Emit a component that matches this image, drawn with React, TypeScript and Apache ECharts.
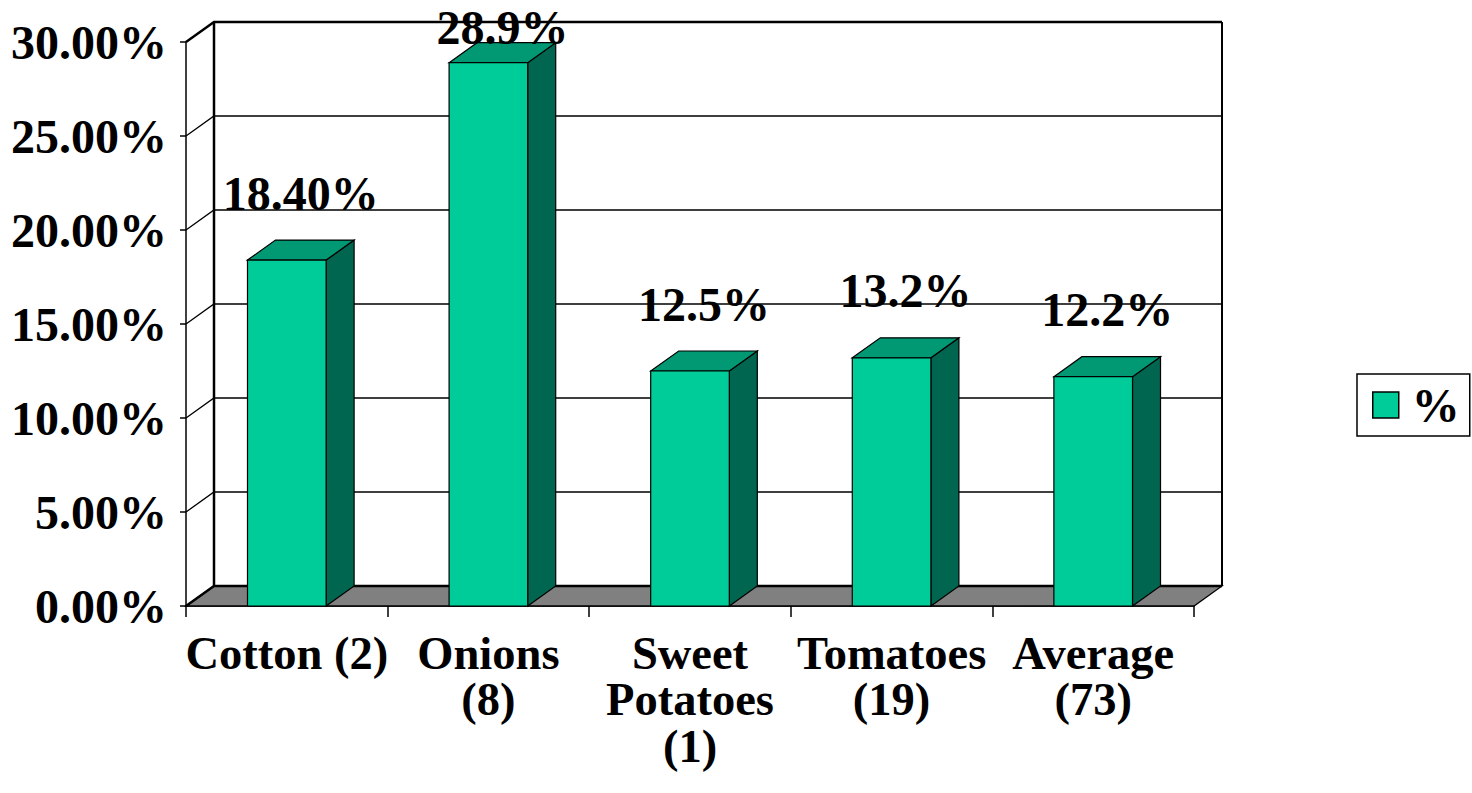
import React, { useEffect, useRef } from "react";
import * as echarts from "echarts";

const categories = ["Cotton (2)", "Onions\n(8)", "Sweet\nPotatoes\n(1)", "Tomatoes\n(19)", "Average\n(73)"];
const values = [0.184, 0.289, 0.125, 0.132, 0.122];
const barLabels = ["18.40%", "28.9%", "12.5%", "13.2%", "12.2%"];
const yTickValues = [0, 0.05, 0.1, 0.15, 0.2, 0.25, 0.3];
const seriesName = "%";

const FONT = "'Liberation Serif', 'Times New Roman', serif";
const FS = 48;
const XFS = 46.5;
const DX = 28;
const DY = -20;

export default function App() {
  const ref = useRef<HTMLDivElement>(null);
  useEffect(() => {
    if (!ref.current) return;
    const chart = echarts.init(ref.current, undefined, { renderer: "svg" });
    const yMax = yTickValues[yTickValues.length - 1];

    const wallRender = (params: any, api: any) => {
      const cs = params.coordSys;
      const x0 = cs.x;
      const w = cs.width;
      const v = api.value(1);
      const y = api.coord([0, v])[1];
      const y0 = api.coord([0, 0])[1];
      const yTop = api.coord([0, yMax])[1];
      const children: any[] = [];
      if (params.dataIndex === 0) {
        children.push({
          type: "polygon",
          shape: { points: [[x0, y], [x0 + w, y], [x0 + w + DX, y + DY], [x0 + DX, y + DY]] },
          style: { fill: "#808080", stroke: "#000", lineWidth: 1.3 },
        });
        children.push({
          type: "line",
          shape: { x1: x0 + DX, y1: yTop + DY, x2: x0 + DX, y2: y0 + DY },
          style: { stroke: "#000", lineWidth: 2.5 },
        });
        children.push({
          type: "line",
          shape: { x1: x0 + w + DX, y1: yTop + DY, x2: x0 + w + DX, y2: y0 + DY },
          style: { stroke: "#000", lineWidth: 2 },
        });
      }
      const isEdge = v === 0 || v === yMax;
      children.push({
        type: "polyline",
        shape: { points: [[x0, y], [x0 + DX, y + DY], [x0 + w + DX, y + DY]] },
        style: { stroke: "#000", lineWidth: isEdge ? 2.5 : 1.3, fill: "none" },
      });
      return { type: "group", children };
    };

    const barRender = (params: any, api: any) => {
      const idx = api.value(0);
      const v = api.value(1);
      const [cx, top] = api.coord([idx, v]);
      const base = api.coord([idx, 0])[1];
      const band = api.size([1, 0])[0];
      const bw = band * 0.39;
      const xl = cx - bw / 2;
      const xr = cx + bw / 2;
      const labelY = Math.max(top + DY - 47, 27);
      return {
        type: "group",
        children: [
          {
            type: "polygon",
            shape: { points: [[xr, top], [xr + DX, top + DY], [xr + DX, base + DY], [xr, base]] },
            style: { fill: "#006650", stroke: "#000", lineWidth: 1.2 },
          },
          {
            type: "polygon",
            shape: { points: [[xl, top], [xl + DX, top + DY], [xr + DX, top + DY], [xr, top]] },
            style: { fill: "#009973", stroke: "#000", lineWidth: 1.2 },
          },
          {
            type: "rect",
            shape: { x: xl, y: top, width: bw, height: base - top },
            style: { fill: "#00CC99", stroke: "#000", lineWidth: 1.2 },
          },
          {
            type: "text",
            style: {
              text: barLabels[params.dataIndex],
              x: cx + DX / 2,
              y: labelY,
              align: "center",
              verticalAlign: "middle",
              fill: "#000",
              fontSize: FS,
              fontWeight: "bold",
              fontFamily: FONT,
            },
          },
        ],
      };
    };

    chart.setOption({
      animation: false,
      backgroundColor: "#fff",
      grid: { left: 186, top: 42, width: 1008, height: 564 },
      legend: {
        data: [{ name: seriesName, icon: "rect" }],
        left: 1357,
        top: 374,
        orient: "vertical",
        itemWidth: 26,
        itemHeight: 26,
        padding: [7, 10, 7, 15],
        borderColor: "#000",
        borderWidth: 1.5,
        itemStyle: { borderColor: "#000", borderWidth: 1.5 },
        textStyle: {
          fontSize: FS,
          fontWeight: "bold",
          fontFamily: FONT,
          color: "#000",
          padding: [0, 0, 0, 8],
        },
        selectedMode: false,
      },
      xAxis: {
        type: "category",
        data: categories,
        axisLine: { show: true, lineStyle: { color: "#000", width: 1.5 } },
        axisTick: { show: true, length: 11, interval: 0, lineStyle: { color: "#000", width: 1.5 } },
        axisLabel: {
          interval: 0,
          margin: 24,
          color: "#000",
          fontSize: XFS,
          fontWeight: "bold",
          fontFamily: FONT,
          lineHeight: XFS,
        },
        splitLine: { show: false },
      },
      yAxis: {
        type: "value",
        min: 0,
        max: yMax,
        interval: 0.05,
        axisLine: { show: true, lineStyle: { color: "#000", width: 1.5 } },
        axisTick: { show: true, length: 6, lineStyle: { color: "#000", width: 1.5 } },
        axisLabel: {
          margin: 19,
          color: "#000",
          fontSize: FS,
          fontWeight: "bold",
          fontFamily: FONT,
          formatter: (v: number) => (v * 100).toFixed(2) + "%",
        },
        splitLine: { show: false },
      },
      series: [
        {
          name: "walls",
          type: "custom",
          silent: true,
          z: 1,
          renderItem: wallRender,
          data: yTickValues.map((v) => [0, v]),
        },
        {
          name: seriesName,
          type: "custom",
          z: 3,
          color: "#00CC99",
          itemStyle: { color: "#00CC99" },
          renderItem: barRender,
          data: values.map((v, i) => [i, v]),
        },
      ],
    });
    return () => chart.dispose();
  }, []);
  return (
    <div
      ref={ref}
      style={{ position: "fixed", left: 0, top: 0, width: 1472, height: 793, background: "#fff" }}
    />
  );
}
